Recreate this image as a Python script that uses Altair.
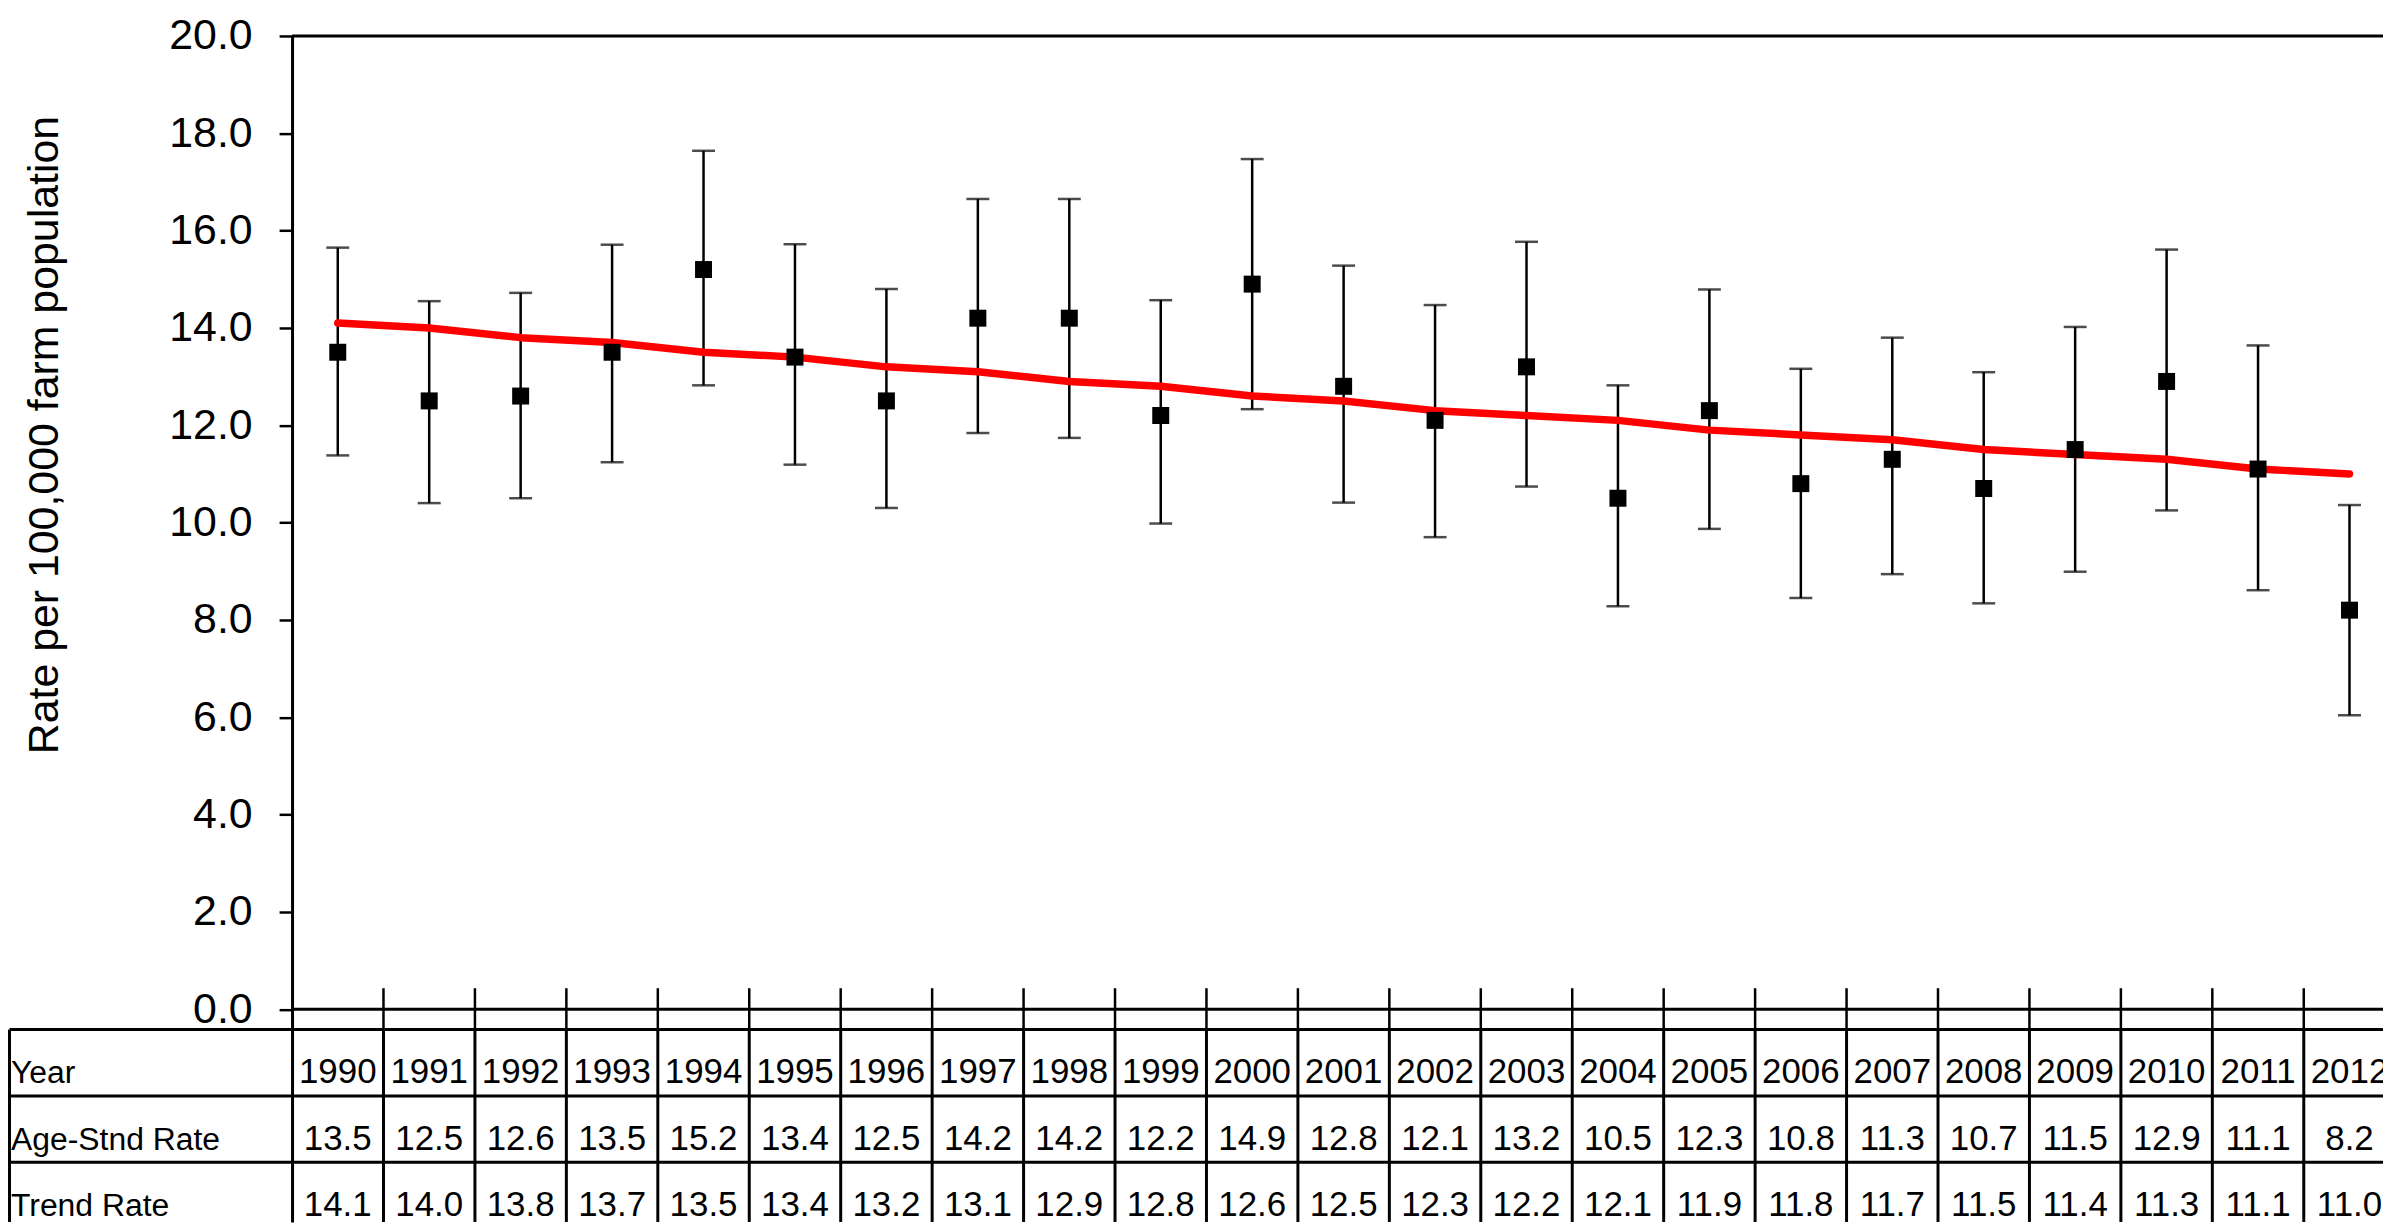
import altair as alt
import pandas as pd

# ---------------- data ----------------
years = list(range(1990, 2013))
age_rate = [13.5, 12.5, 12.6, 13.5, 15.2, 13.4, 12.5, 14.2, 14.2, 12.2, 14.9, 12.8,
            12.1, 13.2, 10.5, 12.3, 10.8, 11.3, 10.7, 11.5, 12.9, 11.1, 8.2]
trend_rate = [14.1, 14.0, 13.8, 13.7, 13.5, 13.4, 13.2, 13.1, 12.9, 12.8, 12.6, 12.5,
              12.3, 12.2, 12.1, 11.9, 11.8, 11.7, 11.5, 11.4, 11.3, 11.1, 11.0]
ci_lower = [11.38, 10.40, 10.50, 11.24, 12.82, 11.19, 10.30, 11.84, 11.74, 9.98, 12.33, 10.41,
            9.70, 10.74, 8.28, 9.87, 8.45, 8.94, 8.34, 8.99, 10.25, 8.61, 6.04]
ci_upper = [15.65, 14.55, 14.72, 15.71, 17.64, 15.72, 14.80, 16.65, 16.65, 14.57, 17.47, 15.28,
            14.47, 15.77, 12.82, 14.79, 13.16, 13.80, 13.09, 14.02, 15.61, 13.64, 10.36]
row_labels = ["Year", "Age-Stnd Rate", "Trend Rate"]
y_ticks = [0, 2, 4, 6, 8, 10, 12, 14, 16, 18, 20]

# ---------------- layout ----------------
W, H = 2098, 1190            # plot area (px)
PAD_L, PAD_T = 285, 26
COL_PX = 91.75               # px per year column
PX = 48.825                  # px per rate unit
X0 = years[0] - 0.5
X1 = X0 + W / COL_PX
Y1 = 20.0
Y0 = Y1 - H / PX
FONT = "Liberation Sans"

def px(v):
    return v / PX

TABLE_TOP = -px(20.5)        # table top border
ROW_H = px(66.6)
BASE_OFF = px(54)
LEFT_EDGE = X0 - 283.5 / COL_PX
LABEL_X = X0 - 282 / COL_PX

df = pd.DataFrame({"year": years, "rate": age_rate, "trend": trend_rate,
                   "lo": ci_lower, "hi": ci_upper})

xs = alt.Scale(domain=[X0, X1], nice=False, zero=False)
ys = alt.Scale(domain=[Y0, Y1], nice=False, zero=False)
X = lambda f: alt.X(f, type="quantitative", scale=xs, axis=None)

# error bars
bars = alt.Chart(df).mark_rule(color="black", strokeWidth=2.5).encode(
    x=X("year"),
    y=alt.Y("lo:Q", scale=ys,
            axis=alt.Axis(values=y_ticks, format=".1f", title="Rate per 100,000 farm population",
                          labelFont=FONT, labelFontSize=43, labelColor="black",
                          labelPadding=27, tickSize=13, tickWidth=2.5, tickColor="black",
                          domainColor="black", domainWidth=3, grid=False,
                          titleFont=FONT, titleFontSize=43, titleFontWeight="normal",
                          titleColor="black", titleAngle=270, titleAlign="center",
                          titleBaseline="alphabetic", titleX=-235, titleY=400)),
    y2="hi:Q",
)
caps_lo = alt.Chart(df).mark_tick(color="black", orient="horizontal", size=23, thickness=2.5).encode(
    x=X("year"), y=alt.Y("lo:Q", scale=ys))
caps_hi = alt.Chart(df).mark_tick(color="black", orient="horizontal", size=23, thickness=2.5).encode(
    x=X("year"), y=alt.Y("hi:Q", scale=ys))

trend = alt.Chart(df).mark_line(color="#FF0000", strokeWidth=7.5, strokeCap="round",
                                strokeJoin="round").encode(
    x=X("year"), y=alt.Y("trend:Q", scale=ys))

points = alt.Chart(df).mark_square(color="black", opacity=1, size=290, filled=True).encode(
    x=X("year"), y=alt.Y("rate:Q", scale=ys))

# frame: top border and x axis line
hlines = pd.DataFrame({"y": [Y1, 0.0], "xa": [X0, X0], "xb": [X1, X1]})
frame = alt.Chart(hlines).mark_rule(color="black", strokeWidth=3).encode(
    x=X("xa"), x2="xb", y=alt.Y("y:Q", scale=ys))

# x ticks at column boundaries
bounds = [y + 0.5 for y in years[:-1]]
xt = pd.DataFrame({"x": bounds, "ya": [px(21)] * len(bounds), "yb": [-px(19)] * len(bounds)})
xticks = alt.Chart(xt).mark_rule(color="black", strokeWidth=2.5).encode(
    x=X("x"), y=alt.Y("ya:Q", scale=ys), y2="yb")

# table grid
th = pd.DataFrame({"y": [TABLE_TOP - i * ROW_H for i in range(3)],
                   "xa": [LEFT_EDGE] * 3, "xb": [X1] * 3})
table_h = alt.Chart(th).mark_rule(color="black", strokeWidth=3, clip=False).encode(
    x=X("xa"), x2="xb", y=alt.Y("y:Q", scale=ys))
tv = pd.DataFrame({"x": [LEFT_EDGE] + bounds,
                   "ya": [TABLE_TOP] * (len(bounds) + 1), "yb": [Y0] * (len(bounds) + 1)})
table_v = alt.Chart(tv).mark_rule(color="black", strokeWidth=3, clip=False).encode(
    x=X("x"), y=alt.Y("ya:Q", scale=ys), y2="yb")

# table text
rows = []
for i, lab in enumerate(row_labels):
    rows.append({"x": LABEL_X, "y": TABLE_TOP - i * ROW_H - BASE_OFF, "t": lab})
lab_df = pd.DataFrame(rows)
labels = alt.Chart(lab_df).mark_text(font=FONT, fontSize=32, align="left", baseline="alphabetic",
                                     color="black", clip=False).encode(
    x=X("x"), y=alt.Y("y:Q", scale=ys), text="t:N")

cells = []
for yr, a, t in zip(years, age_rate, trend_rate):
    for i, txt in enumerate([str(yr), f"{a:.1f}", f"{t:.1f}"]):
        cells.append({"x": yr, "y": TABLE_TOP - i * ROW_H - BASE_OFF, "t": txt})
cell_df = pd.DataFrame(cells)
cell_text = alt.Chart(cell_df).mark_text(font=FONT, fontSize=35, align="center",
                                         baseline="alphabetic", color="black", clip=False).encode(
    x=X("x"), y=alt.Y("y:Q", scale=ys), text="t:N")

chart = alt.layer(
    table_v, table_h, frame, xticks, bars, caps_lo, caps_hi, trend, points, labels, cell_text
).properties(
    width=W, height=H, autosize="none",
    padding={"left": PAD_L, "top": PAD_T, "right": 0, "bottom": 0},
    background="white",
).configure_view(stroke=None)

chart.save("out.html", embed_options={"renderer": "svg", "actions": False})
